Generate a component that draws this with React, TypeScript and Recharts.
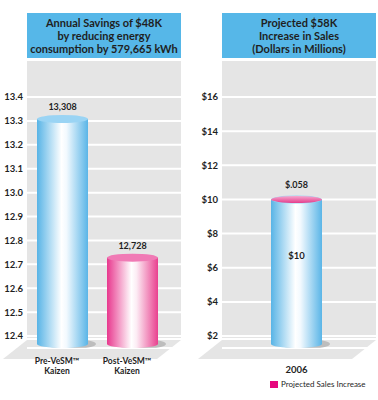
import { Bar, BarChart, CartesianGrid, LabelList, Legend, XAxis, YAxis } from 'recharts';

const energyCategories = ['Pre-VeSM™|Kaizen', 'Post-VeSM™|Kaizen'];
const energyValues = [13.308, 12.728];
const energyLabels = ['13,308', '12,728'];
const energyTicks = [12.4, 12.5, 12.6, 12.7, 12.8, 12.9, 13.0, 13.1, 13.2, 13.3, 13.4];

const salesYears = ['2006'];
const salesBase = [10];
const salesIncrease = [0.058];
const salesBaseLabels = ['$10'];
const salesIncreaseLabels = ['$.058'];
const salesTicks = [2, 4, 6, 8, 10, 12, 14, 16];

const FONT = 'Lato, "DejaVu Sans", sans-serif';
const TEXT = '#1f1f1f';

const energyData = energyCategories.map((name, i) => ({
    name,
    value: energyValues[i],
    label: energyLabels[i],
}));

const salesData = salesYears.map((name, i) => ({
    name,
    base: salesBase[i],
    increase: salesIncrease[i],
    baseLabel: salesBaseLabels[i],
    incLabel: salesIncreaseLabels[i],
}));

const gradIds = ['blueGrad', 'pinkGrad'];
const capColors = ['#9ad4f4', '#f07ab5'];

function Defs() {
    return (
        <defs>
            <linearGradient id="blueGrad" x1="0" y1="0" x2="1" y2="0">
                <stop offset="0%" stopColor="#58b4e6" />
                <stop offset="48%" stopColor="#ffffff" />
                <stop offset="58%" stopColor="#f2f9fe" />
                <stop offset="100%" stopColor="#5ab5e7" />
            </linearGradient>
            <linearGradient id="pinkGrad" x1="0" y1="0" x2="1" y2="0">
                <stop offset="0%" stopColor="#e8388e" />
                <stop offset="48%" stopColor="#ffffff" />
                <stop offset="58%" stopColor="#fcecf4" />
                <stop offset="100%" stopColor="#e9408f" />
            </linearGradient>
            <linearGradient id="pinkCap" x1="0" y1="0" x2="0" y2="1">
                <stop offset="0%" stopColor="#f7a8cf" />
                <stop offset="100%" stopColor="#e43d8c" />
            </linearGradient>
        </defs>
    );
}

function Cylinder(props: any) {
    const { x, y, width, height, index, grad, cap } = props;
    const rx = width / 2;
    const ry = 4;
    const cx = x + rx;
    const bottom = y + height - ry;
    const g = grad || gradIds[index % 2];
    const c = cap || capColors[index % 2];
    return (
        <g>
            <ellipse cx={cx + 8} cy={bottom} rx={rx} ry={ry + 1} fill="#8c8c8c" opacity={0.45} />
            <rect x={x} y={y} width={width} height={bottom - y} fill={`url(#${g})`} />
            <ellipse cx={cx} cy={bottom} rx={rx} ry={ry} fill={`url(#${g})`} />
            <ellipse cx={cx} cy={y} rx={rx} ry={ry} fill={c} />
        </g>
    );
}

function PinkCap(props: any) {
    const { x, y, width } = props;
    return <ellipse cx={x + width / 2} cy={y + 1} rx={width / 2} ry={3.5} fill="url(#pinkCap)" />;
}

function CategoryTick(props: any) {
    const { x, y, payload } = props;
    const lines = String(payload.value).split('|');
    return (
        <text x={x - 5} y={y + 8} textAnchor="middle" fontSize={8.5} fontWeight={700} fill={TEXT} fontFamily={FONT}>
            {lines.map((l, i) => (
                <tspan key={i} x={x - 5} dy={i === 0 ? 0 : 10}>{l}</tspan>
            ))}
        </text>
    );
}

function TitleBox({ lines }: { lines: string[] }) {
    return (
        <div style={{
            background: '#56b7e8', height: 45, display: 'flex', flexDirection: 'column',
            justifyContent: 'center', alignItems: 'center', color: TEXT, fontFamily: FONT,
            fontWeight: 700, fontSize: 11, lineHeight: '13px', whiteSpace: 'nowrap',
        }}>
            {lines.map((l, i) => <div key={i}>{l}</div>)}
        </div>
    );
}

function Backdrop({ left }: { left: number }) {
    return (
        <svg width={190} height={400} style={{ position: 'absolute', left: 0, top: 0 }}>
            <rect x={left} y={60} width={154} height={278} fill="#e5e5e5" />
            <polygon points={`${left},340 ${left + 154},340 ${left + 130},359 ${left - 24},359`} fill="#e5e5e5" />
        </svg>
    );
}

const tickStyle = { fontSize: 9.5, fontWeight: 700, fill: TEXT, fontFamily: FONT };

export default function App() {
    return (
        <div style={{ position: 'absolute', left: 0, top: 0, width: 378, height: 400, background: '#fff', fontFamily: FONT }}>
            <div style={{ position: 'absolute', left: 27, top: 13, width: 154 }}>
                <TitleBox lines={['Annual Savings of $48K', 'by reducing energy', 'consumption by 579,665 kWh']} />
            </div>
            <div style={{ position: 'absolute', left: 222, top: 13, width: 154 }}>
                <TitleBox lines={['Projected $58K', 'Increase in Sales', '(Dollars in Millions)']} />
            </div>

            <div style={{ position: 'absolute', left: 0, top: 0, width: 190, height: 400 }}>
                <Backdrop left={27} />
                <div style={{ position: 'absolute', left: 0, top: 0 }}>
                    <BarChart width={190} height={400} data={energyData} margin={{ top: 60, right: 9, bottom: 0, left: 0 }}>
                        <Defs />
                        <CartesianGrid vertical={false} stroke="#ffffff" strokeWidth={2} />
                        <XAxis dataKey="name" axisLine={false} tickLine={false} height={52} tick={<CategoryTick />}
                            padding={{ left: 0, right: 14 }} interval={0} />
                        <YAxis type="number" domain={[12.35, 13.555]} ticks={energyTicks} allowDataOverflow
                            axisLine={false} tickLine={false} tickSize={0} tickMargin={4} width={27}
                            tick={tickStyle} tickFormatter={(v: number) => v.toFixed(1)} />
                        <Bar dataKey="value" barSize={51} isAnimationActive={false} shape={(p: any) => <Cylinder {...p} />}>
                            <LabelList dataKey="label" position="top" offset={9} fontSize={9} fontWeight={700}
                                fill={TEXT} fontFamily={FONT} />
                        </Bar>
                    </BarChart>
                </div>
            </div>

            <div style={{ position: 'absolute', left: 190, top: 0, width: 188, height: 400 }}>
                <Backdrop left={32} />
                <div style={{ position: 'absolute', left: 0, top: 0 }}>
                    <BarChart width={188} height={400} data={salesData} margin={{ top: 60, right: 2, bottom: 0, left: 0 }}>
                        <Defs />
                        <CartesianGrid vertical={false} stroke="#ffffff" strokeWidth={2} />
                        <XAxis dataKey="name" axisLine={false} tickLine={false} height={52} padding={{ left: 0, right: 5 }}
                            tick={{ ...tickStyle, fontSize: 9.5 }} tickMargin={12} />
                        <YAxis type="number" domain={[1.3, 18.17]} ticks={salesTicks} allowDataOverflow
                            axisLine={false} tickLine={false} tickSize={0} tickMargin={4} width={32}
                            tick={tickStyle} tickFormatter={(v: number) => `$${v}`} />
                        <Bar dataKey="base" name="Sales" stackId="s" barSize={51} isAnimationActive={false}
                            shape={(p: any) => <Cylinder {...p} grad="blueGrad" cap="#9ad4f4" />}>
                            <LabelList dataKey="baseLabel" content={(p: any) => (
                                <text x={p.x + p.width / 2} y={p.y + 60} textAnchor="middle" fontSize={9.5}
                                    fontWeight={700} fill={TEXT} fontFamily={FONT}>{p.value}</text>
                            )} />
                        </Bar>
                        <Bar dataKey="increase" name="Projected Sales Increase" stackId="s" barSize={51}
                            isAnimationActive={false} shape={(p: any) => <PinkCap {...p} />}>
                            <LabelList dataKey="incLabel" position="top" offset={10} fontSize={9} fontWeight={700}
                                fill={TEXT} fontFamily={FONT} />
                        </Bar>
                        <Legend layout="horizontal" verticalAlign="middle" align="center"
                            wrapperStyle={{ left: 80, top: 379, width: 110 }}
                            content={() => (
                                <div style={{ display: 'flex', alignItems: 'center', fontFamily: FONT, fontSize: 8, color: TEXT }}>
                                    <span style={{ width: 8, height: 7, background: '#e6087e', marginRight: 3, display: 'inline-block' }} />
                                    Projected Sales Increase
                                </div>
                            )} />
                    </BarChart>
                </div>
            </div>
        </div>
    );
}
